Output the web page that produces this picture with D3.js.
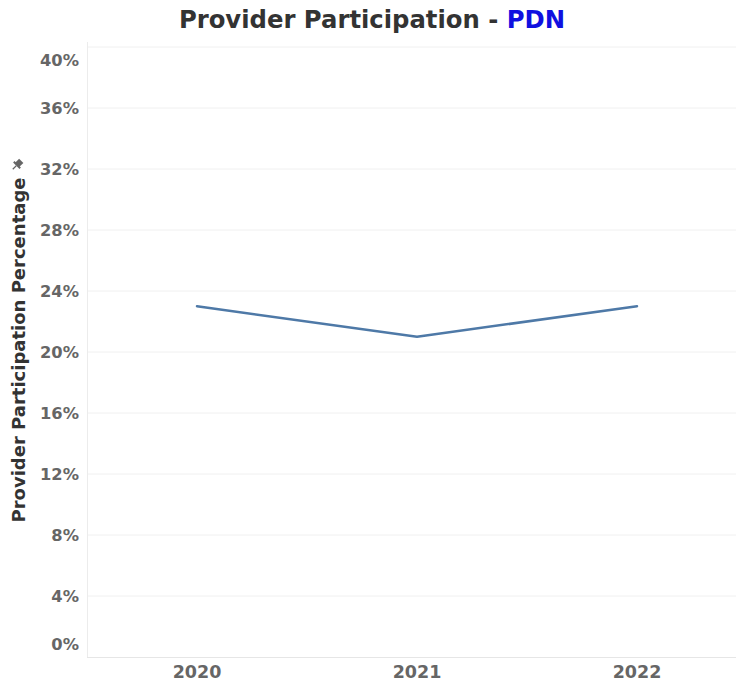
<!DOCTYPE html>
<html><head><meta charset="utf-8">
<script src="https://cdn.jsdelivr.net/npm/d3@7"></script>
<style>body{margin:0;background:#fff}svg{display:block}</style>
</head><body>
<svg id="c" width="736" height="687"></svg>
<script>
const years = ["2020", "2021", "2022"];
const participation = [0.230, 0.210, 0.230];
const yTicks = [0, 0.04, 0.08, 0.12, 0.16, 0.20, 0.24, 0.28, 0.32, 0.36, 0.40];

const svg = d3.select("#c");
const font = "'DejaVu Sans', 'Open Sans', sans-serif";
const mLeft = 87, mTop = 47, mBottom = 657, mRight = 747;

const x = d3.scalePoint().domain(years).range([mLeft, mRight]).padding(0.5);
const y = d3.scaleLinear().domain([0, 0.40]).range([mBottom, mTop]);

// gridlines
svg.append("g").selectAll("line").data(yTicks.filter(d => d > 0)).join("line")
  .attr("x1", mLeft).attr("x2", 736).attr("y1", d => y(d)).attr("y2", d => y(d))
  .attr("stroke", "#f0f0f0").attr("stroke-width", 1);

// axis lines
svg.append("line").attr("x1", mLeft + 0.5).attr("x2", mLeft + 0.5).attr("y1", mTop - 5).attr("y2", mBottom)
  .attr("stroke", "#ececec");
svg.append("line").attr("x1", mLeft).attr("x2", 736).attr("y1", mBottom + 0.5).attr("y2", mBottom + 0.5)
  .attr("stroke", "#e6e6e6");

// y tick labels
const fmt = d3.format(".0%");
svg.append("g").selectAll("text").data(yTicks).join("text")
  .attr("x", 79)
  .attr("y", d => d === 0.40 ? y(d) + 13 : d === 0 ? y(d) - 13 : y(d))
  .attr("dy", "0.36em").attr("text-anchor", "end")
  .attr("font-family", font).attr("font-weight", "bold").attr("font-size", 16.3)
  .attr("fill", "#666").text(d => fmt(d));

// x tick labels
svg.append("g").selectAll("text").data(years).join("text")
  .attr("x", d => x(d)).attr("y", 678).attr("text-anchor", "middle")
  .attr("font-family", font).attr("font-weight", "bold").attr("font-size", 17.5)
  .attr("fill", "#666").text(d => d);

// line
const line = d3.line().x((d, i) => x(years[i])).y(d => y(d));
svg.append("path").datum(participation).attr("d", line)
  .attr("fill", "none").attr("stroke", "#4e79a7").attr("stroke-width", 2.5)
  .attr("stroke-linejoin", "round").attr("stroke-linecap", "round");

// title
const t = svg.append("text").attr("x", 372).attr("y", 28).attr("text-anchor", "middle")
  .attr("font-family", font).attr("font-weight", "bold").attr("font-size", 24.3);
t.append("tspan").attr("fill", "#333").text("Provider Participation - ");
t.append("tspan").attr("fill", "#1010e0").text("PDN");

// y axis title
svg.append("text").attr("transform", "translate(25,350) rotate(-90)")
  .attr("text-anchor", "middle")
  .attr("font-family", font).attr("font-weight", "bold").attr("font-size", 18)
  .attr("fill", "#333").text("Provider Participation Percentage");

// pin icon
const pin = svg.append("g").attr("transform", "translate(17,165) rotate(45)").attr("fill", "#666");
pin.append("rect").attr("x", -3).attr("y", -6).attr("width", 6).attr("height", 6);
pin.append("rect").attr("x", -4.5).attr("y", -1).attr("width", 9).attr("height", 2);
pin.append("line").attr("x1", 0).attr("x2", 0).attr("y1", 1).attr("y2", 6).attr("stroke", "#666").attr("stroke-width", 1.2);
</script>
</body></html>
